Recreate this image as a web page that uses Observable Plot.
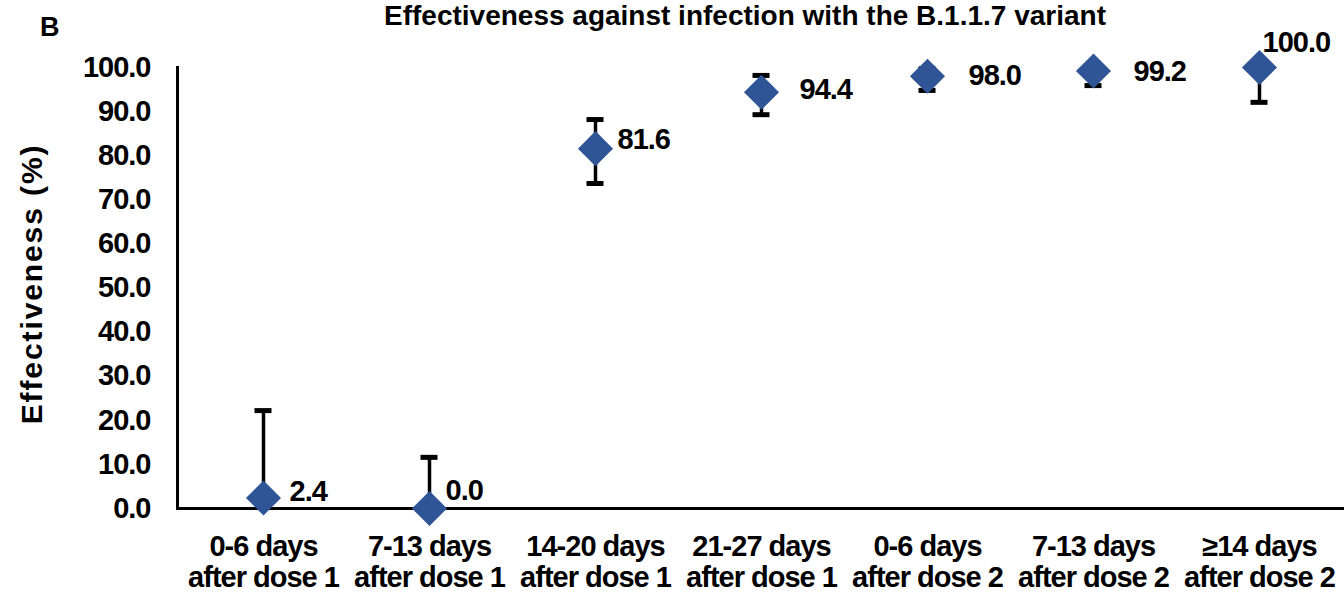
<!DOCTYPE html>
<html>
<head>
<meta charset="utf-8">
<script src="https://cdn.jsdelivr.net/npm/d3@7"></script>
<script src="https://cdn.jsdelivr.net/npm/@observablehq/plot@0.6"></script>
<style>
  html, body { margin: 0; padding: 0; background: #fff; }
  #wrap { position: relative; width: 1344px; height: 596px; overflow: hidden; font-family: "Liberation Sans", Arial, sans-serif; }
  #header { position: relative; height: 40px; }
  #panel { position: absolute; left: 40px; top: 14px; font-size: 27px; line-height: 27px; font-weight: bold; color: #000; }
  #title { position: absolute; left: 146px; width: 1198px; top: 4px; text-align: center; font-size: 28px; line-height: 24px; font-weight: bold; color: #000; white-space: nowrap; }
  #chart svg { display: block; }
</style>
</head>
<body>
<div id="wrap">
  <div id="header">
    <div id="panel">B</div>
    <div id="title">Effectiveness against infection with the B.1.1.7 variant</div>
  </div>
  <div id="chart"></div>
</div>
<script>
// Vaccine effectiveness by interval after each dose, with 95% CI whiskers
const categories = [
  "0-6 days\nafter dose 1",
  "7-13 days\nafter dose 1",
  "14-20 days\nafter dose 1",
  "21-27 days\nafter dose 1",
  "0-6 days\nafter dose 2",
  "7-13 days\nafter dose 2",
  "≥14 days\nafter dose 2"
];
const effectiveness = [2.4, 0.0, 81.6, 94.4, 98.0, 99.2, 100.0];
const ciUpper = [22.2, 11.6, 88.2, 98.2, 99.7, 99.9, 100.0];
const ciLower = [null, null, 73.7, 89.3, 94.8, 95.9, 92.1];
const yTicks = [0, 10, 20, 30, 40, 50, 60, 70, 80, 90, 100];
const yTitle = "Effectiveness (%)";

// Value-label nudges (pixels) so labels clear the markers and whiskers
const labelDx = [26, 16, 22, 38, 41, 40, 3];
const labelDy = [-6, -18, -9, -2, -1, 1, -25];

const rows = categories.map((c, i) => ({
  cat: c,
  value: effectiveness[i],
  upper: ciUpper[i],
  lower: ciLower[i],
  dx: labelDx[i],
  dy: labelDy[i]
}));

const markerColor = "#2F5597";
const labelFont = { fontSize: 29, fontWeight: "bold", fill: "#000" };

const chart = Plot.plot({
  width: 1344,
  height: 556,
  marginTop: 27,
  marginBottom: 88,
  marginLeft: 177,
  marginRight: 0,
  style: {
    fontFamily: "'Liberation Sans', Arial, sans-serif",
    fontSize: "29px",
    fontWeight: "bold",
    letterSpacing: "-1px",
    color: "#000",
    background: "#fff",
    overflow: "visible"
  },
  x: { domain: categories, padding: 0 },
  y: { domain: [0, 100] },
  marks: [
    Plot.axisY({
      ticks: yTicks,
      tickFormat: d => d.toFixed(1),
      tickSize: 0,
      tickPadding: 27,
      label: null,
      fontSize: 29,
      fontWeight: "bold"
    }),
    Plot.axisX({
      tickSize: 0,
      tickPadding: 25,
      label: null,
      lineHeight: 1.07,
      fontSize: 29,
      fontWeight: "bold"
    }),
    Plot.text([yTitle], {
      frameAnchor: "left",
      textAnchor: "middle",
      rotate: -90,
      dx: -145,
      dy: -4,
      fontSize: 30,
      fontWeight: "bold",
      fill: "#000"
    }),
    Plot.frame({ anchor: "left", stroke: "#000", strokeWidth: 3 }),
    Plot.ruleY([0], { stroke: "#000", strokeWidth: 3 }),
    // CI whiskers
    Plot.ruleX(rows, {
      x: "cat",
      y1: d => d.lower ?? d.value,
      y2: "upper",
      stroke: "#000",
      strokeWidth: 3.5
    }),
    Plot.tickY(rows, {
      x: "cat",
      y: "upper",
      stroke: "#000",
      strokeWidth: 5,
      insetLeft: 74.5,
      insetRight: 74.5
    }),
    Plot.tickY(rows.filter(d => d.lower != null), {
      x: "cat",
      y: "lower",
      stroke: "#000",
      strokeWidth: 5,
      insetLeft: 74.5,
      insetRight: 74.5
    }),
    // point estimates
    Plot.dot(rows, {
      x: "cat",
      y: "value",
      symbol: "diamond2",
      r: 15.8,
      fill: markerColor,
      stroke: null
    }),
    // value labels
    ...rows.map(d => Plot.text([d], {
      x: "cat",
      y: "value",
      text: r => r.value.toFixed(1),
      textAnchor: "start",
      dx: d.dx,
      dy: d.dy,
      ...labelFont
    }))
  ]
});

// widen the tracking of the vertical axis title
d3.select(chart).selectAll("text")
  .filter(function () { return this.textContent === yTitle; })
  .style("letter-spacing", "1.9px");

document.getElementById("chart").appendChild(chart);
</script>
</body>
</html>
